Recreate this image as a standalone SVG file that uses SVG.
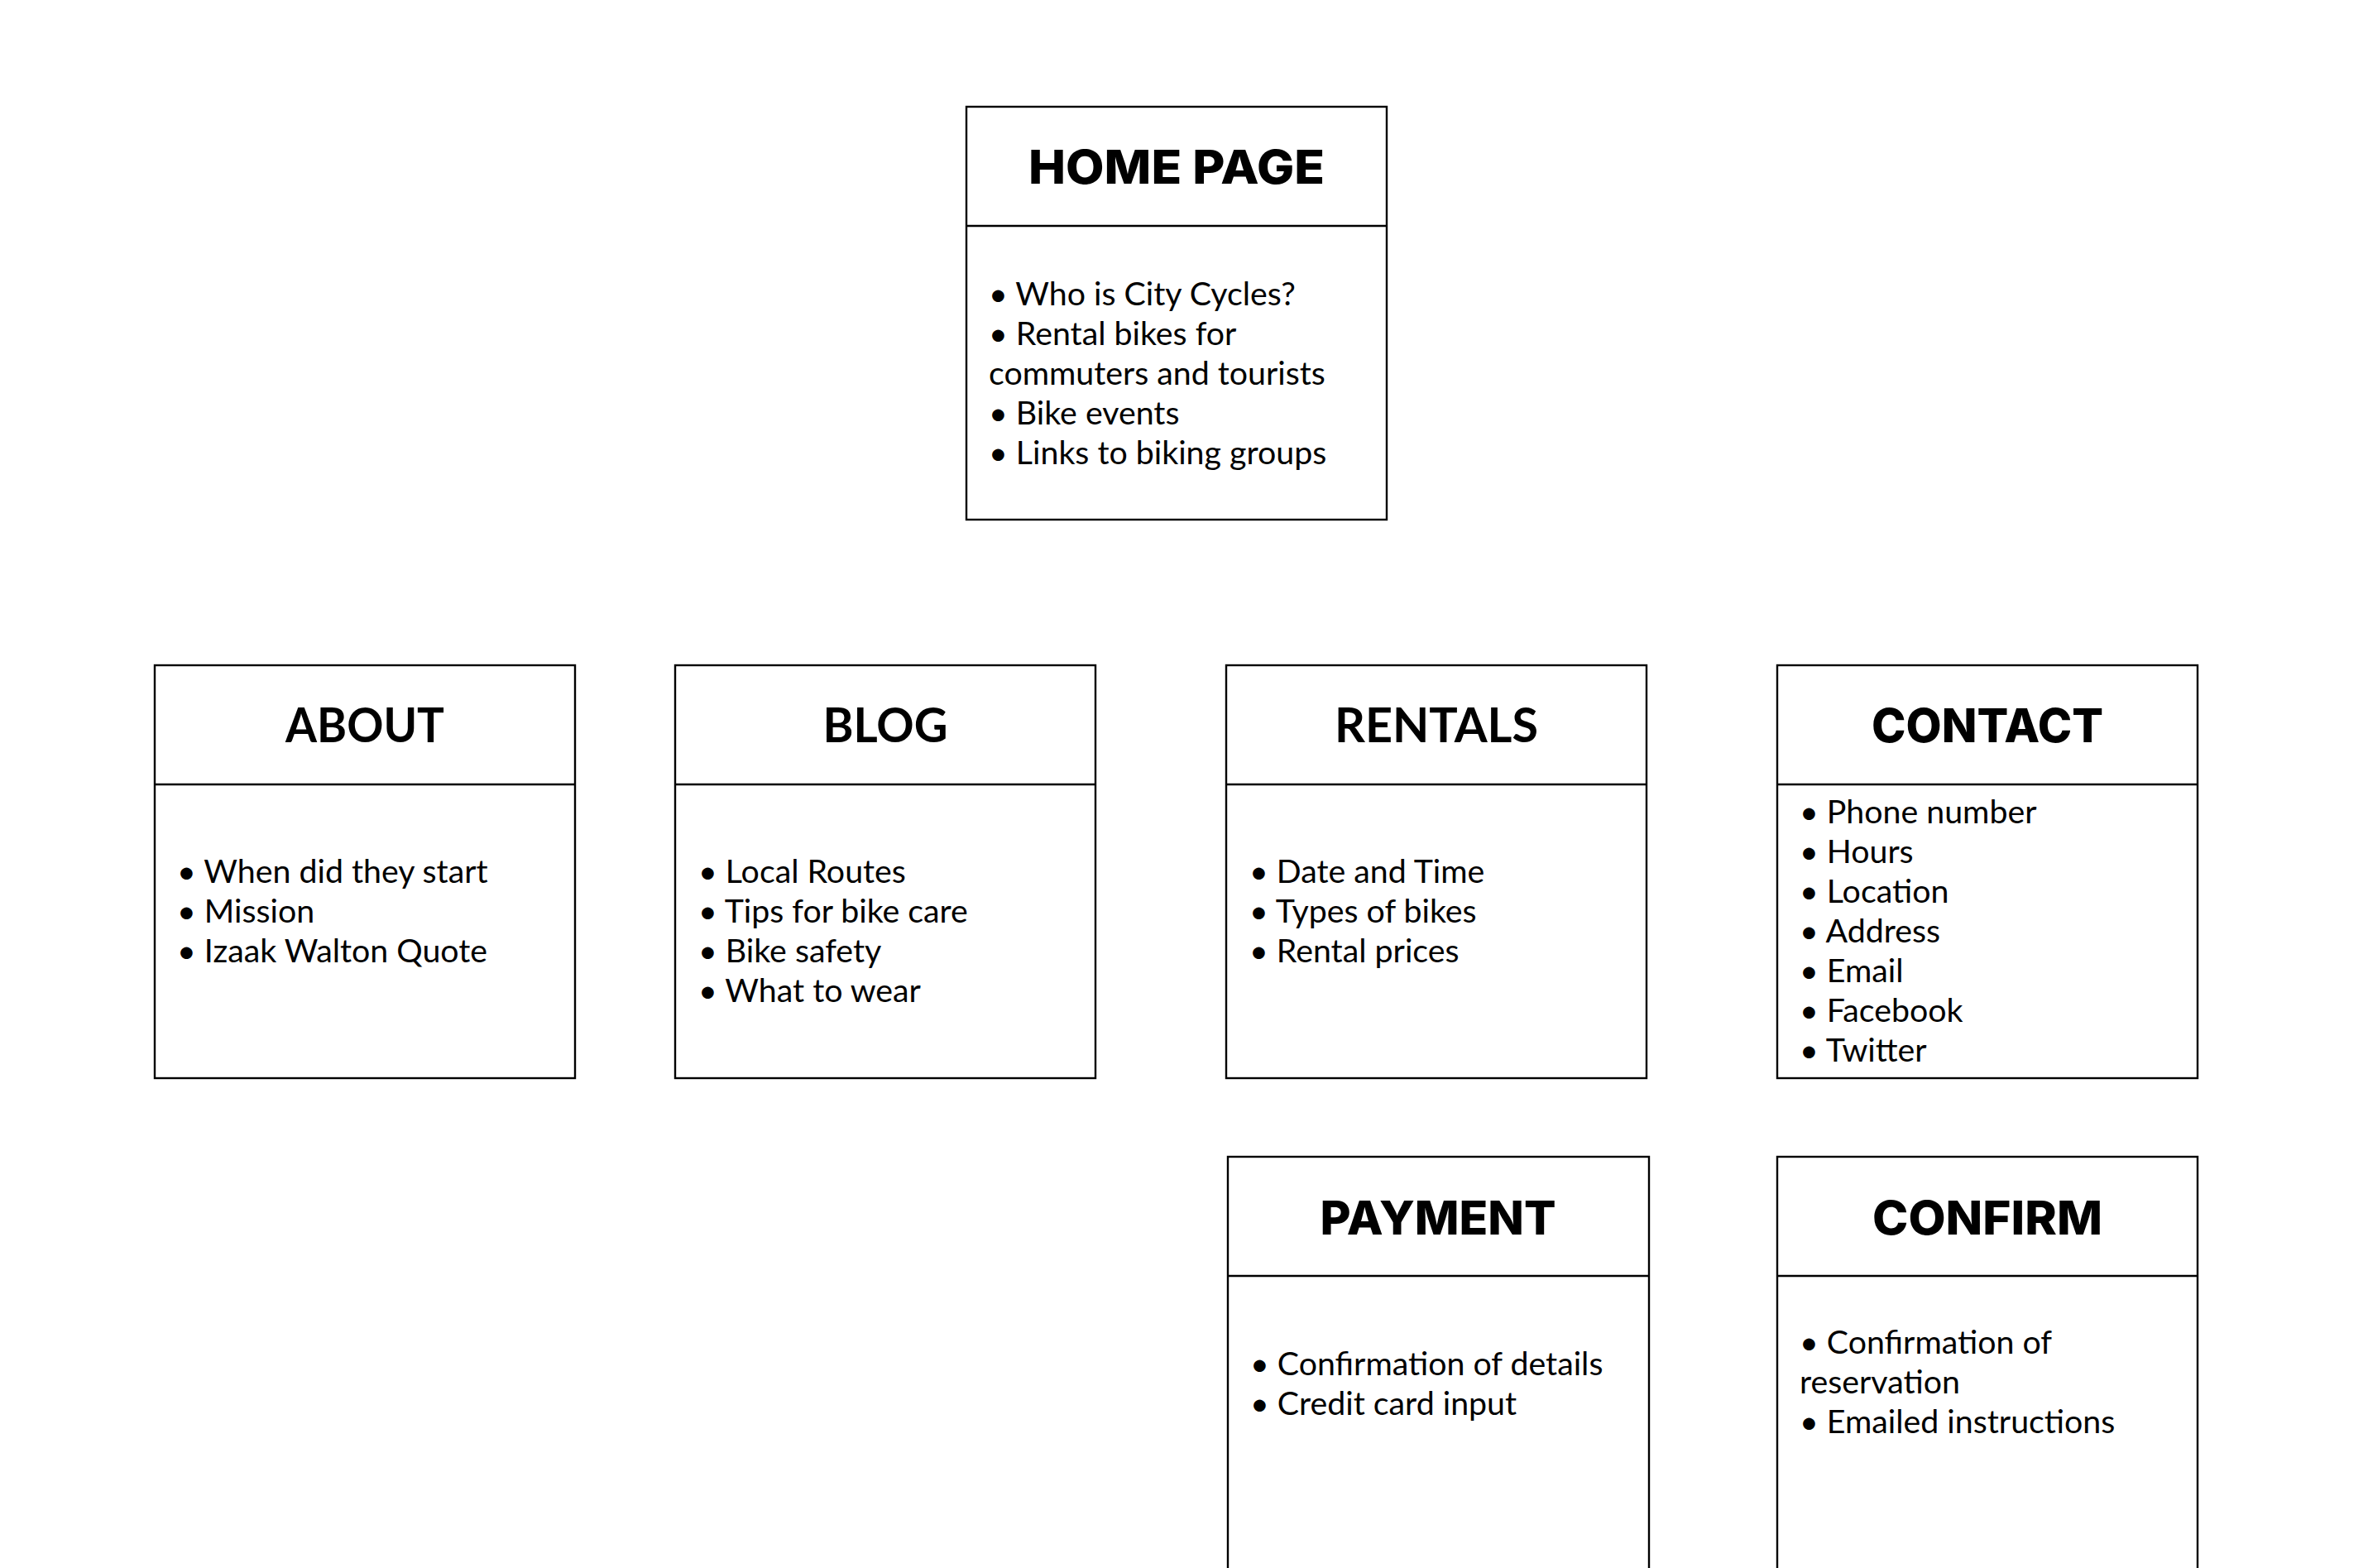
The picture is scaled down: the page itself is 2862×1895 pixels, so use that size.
<svg xmlns="http://www.w3.org/2000/svg" width="2862" height="1895" viewBox="0 0 2862 1895">
<style>
  .box { fill: #ffffff; stroke: #000000; stroke-width: 2.4; }
  .div { stroke: #000000; stroke-width: 2.4; }
  .hm { font-family: Inter, "Noto Sans", "DejaVu Sans", sans-serif; font-weight: 800; font-size: 57px; fill: #000; text-anchor: middle; }
  .hl { font-family: Lato, "Liberation Sans", sans-serif; font-weight: 700; font-size: 58px; fill: #000; text-anchor: middle; }
  .body { font-family: Lato, "Liberation Sans", sans-serif; font-size: 39.3px; fill: #000; }
</style>
<rect x="0" y="0" width="2862" height="1895" fill="#ffffff"/>
<g id="connectors"></g>

<g id="home">
  <rect class="box" x="1168" y="129" width="508" height="499"/>
  <line class="div" x1="1168" y1="273" x2="1676" y2="273"/>
  <text class="hm" x="1422" y="222" textLength="358" lengthAdjust="spacingAndGlyphs">HOME PAGE</text>
  <text class="body" x="1195" y="369">• Who is City Cycles?</text>
  <text class="body" x="1195" y="417">• Rental bikes for</text>
  <text class="body" x="1195" y="465">commuters and tourists</text>
  <text class="body" x="1195" y="513">• Bike events</text>
  <text class="body" x="1195" y="561">• Links to biking groups</text>
</g>

<g id="about">
  <rect class="box" x="187" y="804" width="508" height="499"/>
  <line class="div" x1="187" y1="948" x2="695" y2="948"/>
  <text class="hl" x="441" y="897" textLength="192" lengthAdjust="spacingAndGlyphs">ABOUT</text>
  <text class="body" x="214" y="1067">• When did they start</text>
  <text class="body" x="214" y="1115">• Mission</text>
  <text class="body" x="214" y="1163">• Izaak Walton Quote</text>
</g>

<g id="blog">
  <rect class="box" x="816" y="804" width="508" height="499"/>
  <line class="div" x1="816" y1="948" x2="1324" y2="948"/>
  <text class="hl" x="1070" y="897" textLength="151" lengthAdjust="spacingAndGlyphs">BLOG</text>
  <text class="body" x="844" y="1067">• Local Routes</text>
  <text class="body" x="844" y="1115">• Tips for bike care</text>
  <text class="body" x="844" y="1163">• Bike safety</text>
  <text class="body" x="844" y="1211">• What to wear</text>
</g>

<g id="rentals">
  <rect class="box" x="1482" y="804" width="508" height="499"/>
  <line class="div" x1="1482" y1="948" x2="1990" y2="948"/>
  <text class="hl" x="1736" y="897" textLength="246" lengthAdjust="spacingAndGlyphs">RENTALS</text>
  <text class="body" x="1510" y="1067">• Date and Time</text>
  <text class="body" x="1510" y="1115">• Types of bikes</text>
  <text class="body" x="1510" y="1163">• Rental prices</text>
</g>

<g id="contact">
  <rect class="box" x="2148" y="804" width="508" height="499"/>
  <line class="div" x1="2148" y1="948" x2="2656" y2="948"/>
  <text class="hm" x="2402" y="897" textLength="280" lengthAdjust="spacingAndGlyphs">CONTACT</text>
  <text class="body" x="2175" y="995">• Phone number</text>
  <text class="body" x="2175" y="1043">• Hours</text>
  <text class="body" x="2175" y="1091">• Location</text>
  <text class="body" x="2175" y="1139">• Address</text>
  <text class="body" x="2175" y="1187">• Email</text>
  <text class="body" x="2175" y="1235">• Facebook</text>
  <text class="body" x="2175" y="1283">• Twitter</text>
</g>

<g id="payment">
  <rect class="box" x="1484" y="1398" width="509" height="499"/>
  <line class="div" x1="1484" y1="1542" x2="1993" y2="1542"/>
  <text class="hm" x="1738" y="1492" textLength="285" lengthAdjust="spacingAndGlyphs">PAYMENT</text>
  <text class="body" x="1511" y="1662">• Confirmation of details</text>
  <text class="body" x="1511" y="1710">• Credit card input</text>
</g>

<g id="confirm">
  <rect class="box" x="2148" y="1398" width="508" height="499"/>
  <line class="div" x1="2148" y1="1542" x2="2656" y2="1542"/>
  <text class="hm" x="2402" y="1492" textLength="278" lengthAdjust="spacingAndGlyphs">CONFIRM</text>
  <text class="body" x="2175" y="1636">• Confirmation of</text>
  <text class="body" x="2175" y="1684">reservation</text>
  <text class="body" x="2175" y="1732">• Emailed instructions</text>
</g>
</svg>
